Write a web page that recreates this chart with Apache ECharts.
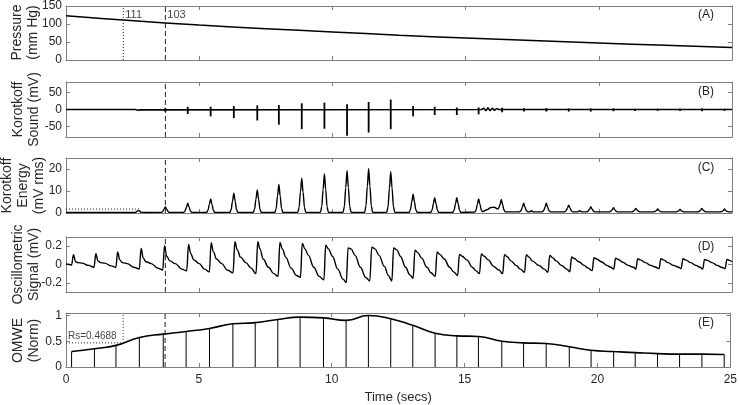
<!DOCTYPE html>
<html><head><meta charset="utf-8">
<script src="https://cdn.jsdelivr.net/npm/echarts@6/dist/echarts.min.js"></script>
<style>html,body{margin:0;padding:0;background:#fff}#c{width:740px;height:405px}</style>
</head><body><div id="c"></div>
<script>
// ---------- data ----------
const xTicks = [0, 5, 10, 15, 20, 25];
const panelLabels = ['(A)', '(B)', '(C)', '(D)', '(E)'];
const yNames = ['Pressure\n(mm Hg)', 'Korotkoff\nSound (mV)', 'Korotkoff\nEnergy\n(mV rms)', 'Oscillometric\nSignal (mV)', 'OMWE\n(Norm)'];
const yRanges = [[0, 150], [-80, 80], [0, 25], [-0.3, 0.3], [0, 1.05]];
const yTicks = [[0, 50, 100, 150], [-50, 0, 50], [0, 10, 20], [-0.2, 0, 0.2], [0, 0.5, 1]];

const markerSys = 2.15;   // dotted marker (111 mm Hg)
const markerMap = 3.73;   // dashed marker (103 mm Hg)
const markerTexts = ['111', '103'];
const rsValue = 0.4688;
const energyThreshold = [[0, 1.8], [2.8, 1.8]];

const pressure = [[0,123],[2.15,111],[3.73,103],[5,97],[7.5,87],[10,78],[12.5,69],[15,61],[17.5,54],[20,47],[22.5,41],[25,35]];

const soundBase = [[0,0],[2.6,0],[2.66,2],[2.7,-2],[2.74,2],[2.78,-1],[2.82,0],[15.6,0],[15.68,4],[15.76,-4],[15.84,5],[15.92,-4],[16.0,4],[16.08,-3],[16.16,3],[16.24,0],[25,0]];
// [time, top, bottom]
const soundSpikes = [
 [3.73,5,-7],[4.57,8,-13],[5.43,8,-20],[6.30,10,-25],[7.18,12,-32],[7.99,13,-44],[8.85,18,-57],
 [9.70,20,-56],[10.55,15,-76],[11.36,22,-67],[12.19,29,-57],[13.03,10,-20],[13.84,8,-16],
 [14.67,6,-16],[15.49,6,-14],[16.37,5,-8],[17.19,4,-6],[18.03,4,-6],[18.87,3,-6],[19.70,3,-6],
 [20.55,3,-5],[21.36,2,-4],[22.21,2,-4],[23.05,2,-4],[23.87,3,-5],[24.72,2,-4]
];

const energy = [
 [0,0.2],[2.6,0.2],[2.68,0.9],[2.75,1.0],[2.82,0.3],[3.0,0.25],
 [3.58,0.3],[3.63,0.71],[3.68,1.74],[3.73,2.9],[3.78,1.74],[3.83,0.71],[3.88,0.3],
 [4.42,0.3],[4.47,0.92],[4.52,2.64],[4.57,4.4],[4.62,2.64],[4.67,0.92],[4.72,0.3],
 [5.28,0.3],[5.33,1.2],[5.38,3.84],[5.43,6.4],[5.48,3.84],[5.53,1.2],[5.58,0.3],
 [6.15,0.3],[6.20,1.56],[6.25,5.4],[6.30,9.0],[6.35,5.4],[6.40,1.56],[6.45,0.3],
 [7.03,0.3],[7.08,1.77],[7.13,6.3],[7.18,10.5],[7.23,6.3],[7.28,1.77],[7.33,0.3],
 [7.84,0.3],[7.89,2.12],[7.94,7.8],[7.99,13],[8.04,7.8],[8.09,2.12],[8.14,0.3],
 [8.70,0.3],[8.75,2.5],[8.80,9.48],[8.85,15.8],[8.90,9.48],[8.95,2.5],[9.00,0.3],
 [9.55,0.3],[9.60,2.78],[9.65,10.62],[9.70,17.7],[9.75,10.62],[9.80,2.78],[9.85,0.3],
 [10.40,0.3],[10.45,2.99],[10.50,11.52],[10.55,19.2],[10.60,11.52],[10.65,2.99],[10.70,0.3],
 [11.21,0.3],[11.26,3.11],[11.31,12.06],[11.36,20.1],[11.41,12.06],[11.46,3.11],[11.51,0.3],
 [12.04,0.3],[12.09,2.93],[12.14,11.28],[12.19,18.8],[12.24,11.28],[12.29,2.93],[12.34,0.3],
 [12.88,0.3],[12.93,1.49],[12.98,5.1],[13.03,8.5],[13.08,5.1],[13.13,1.49],[13.18,0.3],
 [13.69,0.3],[13.74,1.28],[13.79,4.2],[13.84,7.0],[13.89,4.2],[13.94,1.28],[13.99,0.3],
 [14.52,0.3],[14.57,1.28],[14.62,4.2],[14.67,7.0],[14.72,4.2],[14.77,1.28],[14.82,0.3],
 [15.34,0.4],[15.39,1.2],[15.44,3.84],[15.49,6.4],[15.54,3.84],[15.59,1.3],[15.64,0.6],
 [15.8,1.5],[15.95,2.5],[16.08,2.6],[16.2,1.8],[16.24,2.2],[16.29,3.72],[16.34,6.2],[16.39,3.72],[16.44,1.37],[16.49,0.5],
 [17.03,0.5],[17.08,1.12],[17.13,2.64],[17.18,4.4],[17.23,2.64],[17.28,1.12],[17.33,0.5],[17.40,0.5],[17.47,1.0],[17.54,0.5],
 [17.88,0.5],[17.93,1.12],[17.98,2.64],[18.03,4.4],[18.08,2.64],[18.13,1.12],[18.18,0.5],
 [18.72,0.5],[18.77,1.0],[18.82,2.16],[18.87,3.6],[18.92,2.16],[18.97,1.0],[19.02,0.5],[19.20,0.5],[19.28,1.0],[19.36,0.5],
 [19.55,0.5],[19.60,0.9],[19.65,1.74],[19.70,2.9],[19.75,1.74],[19.80,0.9],[19.85,0.5],
 [20.40,0.5],[20.45,0.84],[20.50,1.44],[20.55,2.4],[20.60,1.44],[20.65,0.84],[20.70,0.5],
 [21.24,0.5],[21.29,0.79],[21.34,1.26],[21.39,2.1],[21.44,1.26],[21.49,0.79],[21.54,0.5],
 [22.06,0.5],[22.11,0.75],[22.16,1.08],[22.21,1.8],[22.26,1.08],[22.31,0.75],[22.36,0.5],
 [22.90,0.5],[22.95,0.72],[23.00,0.96],[23.05,1.6],[23.10,0.96],[23.15,0.72],[23.20,0.5],
 [23.72,0.5],[23.77,0.79],[23.82,1.26],[23.87,2.1],[23.92,1.26],[23.97,0.79],[24.02,0.5],
 [24.57,0.5],[24.62,0.75],[24.67,1.08],[24.72,1.8],[24.77,1.08],[24.82,0.75],[24.87,0.5],[25,0.5]
];

const oscillo = [
 [0,0.005],[0.12,0.0],[0.21,-0.005],[0.28,0.108],[0.36,0.03],[0.45,0.02],[0.6,0.015],[0.85,-0.01],[1.05,-0.03],
 [1.12,0.118],[1.2,0.04],[1.3,0.02],[1.45,0.015],[1.7,-0.015],[1.87,-0.03],
 [1.94,0.137],[2.02,0.05],[2.12,0.02],[2.3,0.01],[2.55,-0.03],[2.75,-0.05],
 [2.82,0.174],[2.9,0.07],[3.0,0.03],[3.2,0.01],[3.45,-0.04],[3.63,-0.06],
 [3.70,0.204],[3.78,0.09],[3.9,0.04],[4.1,0.01],[4.35,-0.05],[4.53,-0.07],
 [4.60,0.218],[4.68,0.12],[4.8,0.05],[5.0,0.01],[5.2,-0.05],[5.38,-0.08],
 [5.45,0.237],[5.53,0.14],[5.65,0.06],[5.85,0.01],[6.05,-0.06],[6.27,-0.09],
 [6.34,0.248],[6.43,0.16],[6.55,0.08],[6.75,0.02],[6.95,-0.04],[7.13,-0.1],
 [7.20,0.248],[7.28,0.17],[7.4,0.06],[7.6,-0.03],[7.8,-0.1],[7.96,-0.13],
 [8.03,0.24],[8.12,0.17],[8.25,0.08],[8.45,-0.04],[8.65,-0.12],[8.8,-0.14],
 [8.87,0.23],[8.97,0.17],[9.1,0.1],[9.3,-0.03],[9.5,-0.13],[9.68,-0.167],
 [9.75,0.21],[9.85,0.17],[10.0,0.09],[10.2,-0.05],[10.4,-0.16],[10.52,-0.196],
 [10.59,0.18],[10.7,0.17],[10.85,0.1],[11.05,-0.03],[11.25,-0.14],[11.4,-0.18],
 [11.48,0.19],[11.6,0.17],[11.75,0.1],[11.95,-0.02],[12.1,-0.12],[12.23,-0.18],
 [12.30,0.18],[12.42,0.16],[12.55,0.09],[12.75,-0.03],[12.9,-0.11],[13.03,-0.15],
 [13.10,0.155],[13.2,0.13],[13.35,0.07],[13.55,-0.03],[13.7,-0.09],[13.86,-0.13],
 [13.93,0.137],[14.03,0.11],[14.2,0.06],[14.4,-0.03],[14.55,-0.08],[14.7,-0.12],
 [14.77,0.11],[14.87,0.09],[15.05,0.05],[15.25,-0.03],[15.4,-0.07],[15.52,-0.10],
 [15.59,0.115],[15.7,0.09],[15.85,0.05],[16.05,-0.02],[16.25,-0.06],[16.39,-0.10],
 [16.46,0.108],[16.56,0.085],[16.7,0.04],[16.9,-0.01],[17.05,-0.05],[17.21,-0.085],
 [17.28,0.108],[17.38,0.08],[17.5,0.04],[17.75,-0.01],[17.95,-0.05],[18.09,-0.085],
 [18.16,0.10],[18.26,0.075],[18.4,0.04],[18.6,-0.01],[18.8,-0.05],[18.91,-0.08],
 [18.98,0.082],[19.08,0.065],[19.25,0.03],[19.45,-0.01],[19.6,-0.04],[19.75,-0.067],
 [19.82,0.074],[19.92,0.06],[20.1,0.03],[20.3,-0.01],[20.45,-0.03],[20.56,-0.05],
 [20.63,0.07],[20.73,0.055],[20.9,0.025],[21.1,-0.01],[21.3,-0.03],[21.39,-0.05],
 [21.46,0.063],[21.56,0.05],[21.75,0.02],[21.95,-0.01],[22.15,-0.03],[22.26,-0.045],
 [22.33,0.063],[22.43,0.05],[22.6,0.02],[22.8,-0.01],[23.0,-0.03],[23.09,-0.045],
 [23.16,0.063],[23.26,0.05],[23.45,0.02],[23.65,-0.01],[23.8,-0.03],[23.9,-0.05],
 [23.97,0.056],[24.07,0.045],[24.25,0.02],[24.45,-0.01],[24.6,-0.03],[24.74,-0.045],
 [24.81,0.056],[24.91,0.045],[25.0,0.03]
];

const omwe = [
 [0.21,0.30],[1.07,0.356],[1.88,0.42],[2.76,0.575],[3.66,0.64],[4.52,0.69],[5.40,0.75],[6.28,0.84],
 [7.12,0.8625],[7.97,0.925],[8.81,0.97],[9.69,0.956],[10.54,0.906],[11.38,1.0],[12.22,0.94],[13.05,0.81],
 [13.89,0.656],[14.71,0.606],[15.52,0.594],[16.40,0.5],[17.22,0.47],[18.07,0.456],[18.94,0.394],[19.76,0.325],
 [20.61,0.30],[21.42,0.28],[22.26,0.26],[23.09,0.25],[23.93,0.25],[24.77,0.244]
];

// ---------- layout ----------
const FONT = 'Liberation Sans, Arial, sans-serif';
const TXT = '#262626';
const AX = '#7f7f7f';
const gridTops = [5, 82, 158, 237, 313];
const gridH = 55;
const gridLeft = 66, gridRight = 8;
const titleX = [25, 26, 23, 26, 26];

const grids = [], xAxes = [], yAxes = [], series = [], graphics = [];
gridTops.forEach((top, i) => {
  grids.push({left: gridLeft, right: gridRight, top: top, height: gridH});
  const xCommon = {type: 'value', gridIndex: i, min: 0, max: 25, interval: 5,
    axisLine: {show: true, onZero: false, lineStyle: {color: AX, width: 1}},
    axisTick: {show: true, inside: true, length: 4, lineStyle: {color: AX}},
    splitLine: {show: false}};
  xAxes.push(Object.assign({}, xCommon, {position: 'bottom',
    axisLabel: {show: i === 4, color: TXT, fontFamily: FONT, fontSize: 12, margin: 7},
    name: i === 4 ? 'Time (secs)' : '', nameLocation: 'middle', nameGap: 24,
    nameTextStyle: {color: TXT, fontFamily: FONT, fontSize: 13}}));
  xAxes.push(Object.assign({}, xCommon, {position: 'top', axisLabel: {show: false}}));
  const yCommon = {type: 'value', gridIndex: i, min: yRanges[i][0], max: yRanges[i][1],
    axisLine: {show: true, onZero: false, lineStyle: {color: AX, width: 1}},
    axisTick: {show: true, inside: true, length: 4, lineStyle: {color: AX}, customValues: yTicks[i]},
    splitLine: {show: false}};
  yAxes.push(Object.assign({}, yCommon, {position: 'left',
    axisLabel: {show: true, color: TXT, fontFamily: FONT, fontSize: 12, margin: 4, customValues: yTicks[i]}}));
  yAxes.push(Object.assign({}, yCommon, {position: 'right', axisLabel: {show: false}}));

  // y-axis title (rotated, multi-line)
  graphics.push({type: 'text', x: titleX[i], y: top + gridH / 2, rotation: Math.PI / 2,
    style: {text: yNames[i], font: '14px ' + FONT, fill: TXT, align: 'center', verticalAlign: 'middle', lineHeight: 16}});
  // panel label
  graphics.push({type: 'text', x: 706, y: top + 10,
    style: {text: panelLabels[i], font: '12px ' + FONT, fill: TXT, align: 'center', verticalAlign: 'middle'}});

  // dashed marker in every panel
  series.push({type: 'line', xAxisIndex: 2 * i, yAxisIndex: 2 * i, symbol: 'none', silent: true,
    data: [[markerMap, yRanges[i][0]], [markerMap, yRanges[i][1]]],
    lineStyle: {color: '#222', width: 1, type: [5, 3]}});
});

const lineS = (i, data, extra) => Object.assign({type: 'line', xAxisIndex: 2 * i, yAxisIndex: 2 * i,
  symbol: 'none', silent: true, data: data, lineStyle: {color: '#000', width: 1.5}}, extra || {});

// Panel A
series.push(lineS(0, pressure, {smooth: 0.4}));
series.push(lineS(0, [[markerSys, 0], [markerSys, 150]], {lineStyle: {color: '#222', width: 1, type: [1, 2]}}));
series.push({type: 'scatter', xAxisIndex: 0, yAxisIndex: 0, symbolSize: 0, silent: true,
  data: [[markerSys, 150, markerTexts[0]], [markerMap, 150, markerTexts[1]]],
  label: {show: true, position: [2, 3], align: 'left', verticalAlign: 'top', color: '#111',
    fontFamily: FONT, fontSize: 11, formatter: p => p.data[2]}});

// Panel B
series.push(lineS(1, soundBase, {lineStyle: {color: '#000', width: 1.6}}));
series.push({type: 'custom', xAxisIndex: 2, yAxisIndex: 2, silent: true, data: soundSpikes,
  renderItem: (params, api) => {
    const a = api.coord([api.value(0), api.value(1)]);
    const b = api.coord([api.value(0), api.value(2)]);
    return {type: 'line', shape: {x1: a[0], y1: a[1], x2: b[0], y2: b[1]}, style: {stroke: '#000', lineWidth: 1.8}};
  }});

// Panel C
series.push(lineS(2, energy, {smooth: 0.3, smoothMonotone: 'x', lineStyle: {color: '#000', width: 1.4}}));
series.push(lineS(2, energyThreshold, {lineStyle: {color: '#222', width: 1, type: [1, 2]}}));

// Panel D
series.push(lineS(3, oscillo, {smooth: 0.4, smoothMonotone: 'x', lineStyle: {color: '#000', width: 1.4}}));

// Panel E
series.push(lineS(4, omwe, {smooth: 0.5, lineStyle: {color: '#000', width: 1.6}}));
series.push({type: 'custom', xAxisIndex: 8, yAxisIndex: 8, silent: true, data: omwe,
  renderItem: (params, api) => {
    const a = api.coord([api.value(0), 0]);
    const b = api.coord([api.value(0), api.value(1)]);
    return {type: 'line', shape: {x1: a[0], y1: a[1], x2: b[0], y2: b[1]}, style: {stroke: '#000', lineWidth: 1}};
  }});
series.push(lineS(4, [[markerSys, rsValue], [markerSys, 1.05]], {lineStyle: {color: '#222', width: 1, type: [1, 2]}}));
series.push(lineS(4, [[0, rsValue], [markerSys, rsValue]], {lineStyle: {color: '#222', width: 1, type: [1, 2]}}));
series.push({type: 'scatter', xAxisIndex: 8, yAxisIndex: 8, symbolSize: 0, silent: true,
  data: [[0, rsValue, 'Rs=' + rsValue]],
  label: {show: true, position: [2, -12], align: 'left', verticalAlign: 'top', color: '#111',
    fontFamily: FONT, fontSize: 10, formatter: p => p.data[2]}});

const chart = echarts.init(document.getElementById('c'), null, {renderer: 'canvas'});
chart.setOption({
  animation: false,
  backgroundColor: '#fff',
  grid: grids, xAxis: xAxes, yAxis: yAxes, series: series, graphic: graphics
});
</script></body></html>
